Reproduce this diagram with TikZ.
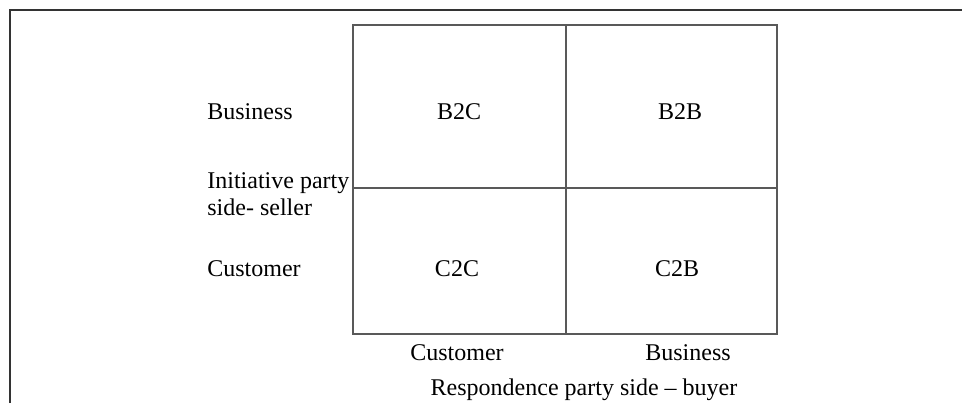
\documentclass[tikz,border=0pt]{standalone}
\usepackage{fontspec}
\setmainfont{Liberation Serif}
\tikzset{frame/.style={draw=black!80,line width=1pt},
  boxline/.style={draw=black!65,line width=.75pt},
  cell/.style={inner sep=0pt,anchor=base,font=\fontsize{12}{14}\selectfont},
  side/.style={inner sep=0pt,anchor=base west,font=\fontsize{12}{14}\selectfont}}

\begin{document}
\begin{tikzpicture}[x=.5pt,y=-.5pt]
  \path[use as bounding box] (0,0) rectangle (962,403);
  \draw[frame] (10,403)--(10,10)--(962,10);
  \draw[boxline] (353,25) rectangle (777,334);
  \draw[boxline] (566,25)--(566,334);
  \draw[boxline] (353,188)--(777,188);
  % seller side
  \node[side] (sbus) at (207,119) {Business};
  \node[side] (init) at (207,188) {Initiative party};
  \node[side] (sell) at (207,215) {side- seller};
  \node[side] (scus) at (207,276) {Customer};
  % cells
  \node[cell] (b2c) at (459,119) {B2C};
  \node[cell] (b2b) at (680,119) {B2B};
  \node[cell] (c2c) at (457,276) {C2C};
  \node[cell] (c2b) at (677,276) {C2B};
  % buyer side
  \node[cell] (bcus) at (457,360) {Customer};
  \node[cell] (bbus) at (688,360) {Business};
  \node[cell] (resp) at (584,395) {Respondence party side -- buyer};
\end{tikzpicture}
\end{document}
